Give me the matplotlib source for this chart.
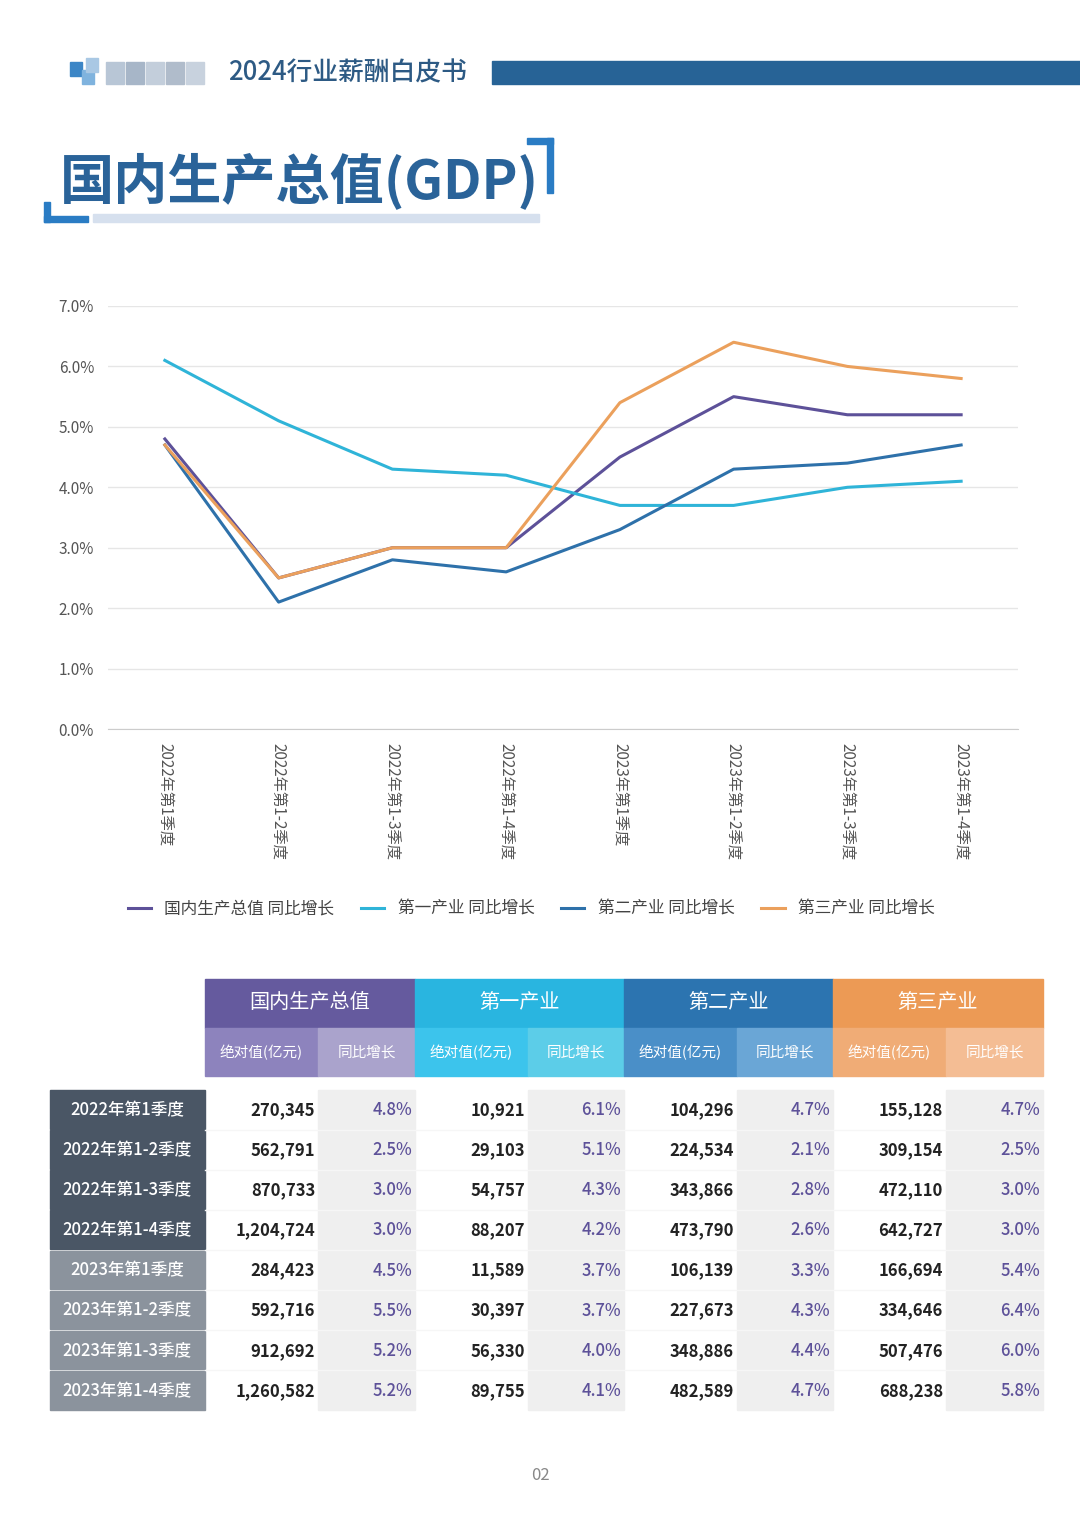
import matplotlib
matplotlib.use('Agg')
import matplotlib.pyplot as plt
from matplotlib import font_manager as fm
from matplotlib.patches import Rectangle

# register any CJK font files so they can be picked by name
for f in fm.findSystemFonts():
    if 'CJK' in f or 'cjk' in f.lower():
        try:
            fm.fontManager.addfont(f)
        except Exception:
            pass
cjk = [f.name for f in fm.fontManager.ttflist if 'CJK' in f.name]
plt.rcParams['font.family'] = ['Noto Sans CJK SC', 'Noto Sans CJK JP'] + cjk[:1] + ['DejaVu Sans']

quarters = ["2022年第1季度", "2022年第1-2季度", "2022年第1-3季度", "2022年第1-4季度",
            "2023年第1季度", "2023年第1-2季度", "2023年第1-3季度", "2023年第1-4季度"]
series_names = ["国内生产总值", "第一产业", "第二产业", "第三产业"]
gdp_abs = [270345, 562791, 870733, 1204724, 284423, 592716, 912692, 1260582]
gdp_yoy = [4.8, 2.5, 3.0, 3.0, 4.5, 5.5, 5.2, 5.2]
pri_abs = [10921, 29103, 54757, 88207, 11589, 30397, 56330, 89755]
pri_yoy = [6.1, 5.1, 4.3, 4.2, 3.7, 3.7, 4.0, 4.1]
sec_abs = [104296, 224534, 343866, 473790, 106139, 227673, 348886, 482589]
sec_yoy = [4.7, 2.1, 2.8, 2.6, 3.3, 4.3, 4.4, 4.7]
ter_abs = [155128, 309154, 472110, 642727, 166694, 334646, 507476, 688238]
ter_yoy = [4.7, 2.5, 3.0, 3.0, 5.4, 6.4, 6.0, 5.8]

colors = ["#5d5199", "#2fb4d8", "#2e71aa", "#eba05c"]
W, H = 1080, 1518
fig = plt.figure(figsize=(W / 100, H / 100), dpi=100)
page = fig.add_axes([0, 0, 1, 1])
page.set_xlim(0, W)
page.set_ylim(H, 0)
page.axis('off')

# header
for x, y, c in [(70, 62, "#3c86c6"), (82, 70, "#7fb3de"), (86, 58, "#a9c8e4")]:
    page.add_patch(Rectangle((x, y), 12, 14, color=c))
for i, c in enumerate(["#b8c6d6", "#a7b6c8", "#c3cedb", "#b0bccb", "#c8d2de"]):
    page.add_patch(Rectangle((106 + i * 20, 62), 18, 22, color=c))
page.text(228, 73, "2024行业薪酬白皮书", fontsize=18.5, fontweight='medium', color="#2d5a84", va='center')
page.add_patch(Rectangle((492, 61), 588, 23, color="#276396"))

# title
page.text(60, 182, "国内生产总值(GDP)", fontsize=39, fontweight='bold', color="#2a6399", va='center')
page.add_patch(Rectangle((93, 214), 446, 8, color="#d6e0ee"))
page.add_patch(Rectangle((44, 202), 6, 20, color="#2a7cc4"))
page.add_patch(Rectangle((44, 216), 44, 6, color="#2a7cc4"))
page.add_patch(Rectangle((547, 138), 6, 55, color="#2a7cc4"))
page.add_patch(Rectangle((527, 138), 26, 6, color="#2a7cc4"))

# line chart
ax = fig.add_axes([108 / W, (H - 729) / H, 910 / W, 423 / H])
x = list(range(len(quarters)))
for name, vals, c in zip(series_names, [gdp_yoy, pri_yoy, sec_yoy, ter_yoy], colors):
    ax.plot(x, vals, color=c, lw=2.2, label=name + " 同比增长")
ax.set_xlim(-0.5, 7.5)
ax.set_ylim(0, 7)
ax.set_yticks([0, 1, 2, 3, 4, 5, 6, 7])
ax.set_yticklabels([f"{v:.1f}%" for v in range(8)])
ax.yaxis.grid(True, color="#e6e6e6", lw=1)
ax.set_axisbelow(True)
for s in ['top', 'right', 'left']:
    ax.spines[s].set_visible(False)
ax.spines['bottom'].set_color("#cccccc")
ax.tick_params(axis='y', length=0, labelsize=11, labelcolor="#555555", pad=10)
ax.set_xticks(x)
ax.set_xticklabels(quarters, rotation=-90, fontsize=11, color="#555555", va='top')
ax.tick_params(axis='x', length=0, pad=10)
ax.legend(loc='upper center', bbox_to_anchor=(0.465, -0.37), ncol=4, frameon=False,
          fontsize=12, handlelength=1.4, columnspacing=1.6, labelcolor="#444444")

# table
edges = [205, 318, 415, 528, 624, 737, 833, 946, 1043]
head_main = ["#655a9e", "#29b5e0", "#2c74b0", "#ec9a55"]
head_sub = [("#8d83bd", "#aaa3cc"), ("#3cc4ec", "#5ccde8"), ("#4a8fc8", "#6aa6d6"), ("#f0ac76", "#f4bd94")]
for i in range(4):
    x0, x1, x2 = edges[2 * i], edges[2 * i + 1], edges[2 * i + 2]
    page.add_patch(Rectangle((x0, 979), x2 - x0, 49, color=head_main[i]))
    page.text((x0 + x2) / 2, 1003, series_names[i], color="white", fontsize=14.5, ha='center', va='center')
    page.add_patch(Rectangle((x0, 1028), x1 - x0, 48, color=head_sub[i][0]))
    page.add_patch(Rectangle((x1, 1028), x2 - x1, 48, color=head_sub[i][1]))
    page.text((x0 + x1) / 2, 1052, "绝对值(亿元)", color="white", fontsize=10.5, ha='center', va='center')
    page.text((x1 + x2) / 2, 1052, "同比增长", color="white", fontsize=10.5, ha='center', va='center')

abs_cols = [gdp_abs, pri_abs, sec_abs, ter_abs]
yoy_cols = [gdp_yoy, pri_yoy, sec_yoy, ter_yoy]
rh = (1411 - 1090) / 8
for r, q in enumerate(quarters):
    y0 = 1090 + r * rh
    yc = y0 + rh / 2
    page.add_patch(Rectangle((50, y0), 155, rh - 1.5, color="#4a5665" if r < 4 else "#8b939d"))
    page.text(127, yc, q, color="white", fontsize=12, fontweight='medium', ha='center', va='center')
    for i in range(4):
        x0, x1, x2 = edges[2 * i], edges[2 * i + 1], edges[2 * i + 2]
        page.add_patch(Rectangle((x1, y0), x2 - x1, rh - 1.5, color="#efefef"))
        page.text(x1 - 3, yc, f"{abs_cols[i][r]:,}", color="#222222", fontsize=12,
                  fontweight='bold', ha='right', va='center')
        page.text(x2 - 3, yc, f"{yoy_cols[i][r]:.1f}%", color="#5d5199", fontsize=12,
                  fontweight='medium', ha='right', va='center')
    if r < 7:
        page.plot([205, 1043], [y0 + rh - 0.5, y0 + rh - 0.5], color="#f6f6f6", lw=1)

page.text(540, 1475, "02", fontsize=12, color="#888888", ha='center', va='center')

fig.savefig("out.png", dpi=100)
